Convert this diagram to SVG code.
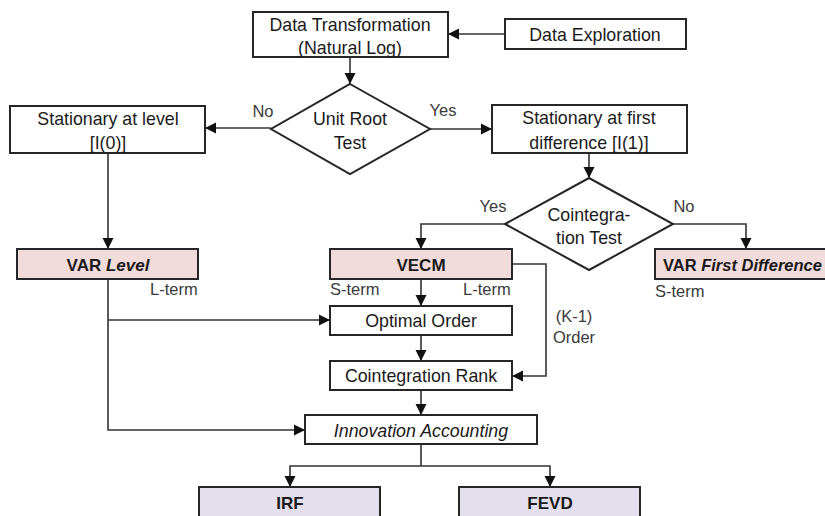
<svg xmlns="http://www.w3.org/2000/svg" width="825" height="516" viewBox="0 0 825 516">
<style>
.box{fill:#fff;stroke:#262626;stroke-width:2}
.pink{fill:#f2dcdb;stroke:#262626;stroke-width:2}
.lav{fill:#e4dfec;stroke:#262626;stroke-width:2}
.t{font-family:"Liberation Sans",Arial,sans-serif;font-size:17.8px;fill:#1a1a1a;text-anchor:middle}
.b{font-weight:bold;font-size:17px}
.i{font-style:italic}
.st{text-anchor:start;font-size:16.5px}
.lb{font-family:"Liberation Sans",Arial,sans-serif;font-size:16.5px;fill:#3a3a3a}
.c{fill:none;stroke:#333;stroke-width:1.6}
</style>
<defs>
<marker id="ah" markerUnits="userSpaceOnUse" markerWidth="12" markerHeight="12" viewBox="0 0 12 12" refX="11" refY="6" orient="auto">
<path d="M0,0.5 L11,6 L0,11.5 z" fill="#111"/>
</marker>
</defs>
<rect width="825" height="516" fill="#fff"/>
<g id="connectors">
<path class="c" d="M505,34 H448" marker-end="url(#ah)"/>
<path class="c" d="M350,57 V84" marker-end="url(#ah)"/>
<path class="c" d="M271,128 H205" marker-end="url(#ah)"/>
<path class="c" d="M430,129 H492" marker-end="url(#ah)"/>
<path class="c" d="M589,153 V178" marker-end="url(#ah)"/>
<path class="c" d="M505,224 H421 V249" marker-end="url(#ah)"/>
<path class="c" d="M673,224 H746 V249" marker-end="url(#ah)"/>
<path class="c" d="M108,153 V249" marker-end="url(#ah)"/>
<path class="c" d="M108,279 V430 H305" marker-end="url(#ah)"/>
<path class="c" d="M108,320 H330" marker-end="url(#ah)"/>
<path class="c" d="M421,279 V306" marker-end="url(#ah)"/>
<path class="c" d="M421,335 V361" marker-end="url(#ah)"/>
<path class="c" d="M421,390 V415" marker-end="url(#ah)"/>
<path class="c" d="M512,264 H546 V376 H512" marker-end="url(#ah)"/>
<path class="c" d="M421,444 V466"/>
<path class="c" d="M421,466 H290 V487" marker-end="url(#ah)"/>
<path class="c" d="M421,466 H550 V487" marker-end="url(#ah)"/>
<text class="lb" x="263" y="117" text-anchor="middle">No</text>
<text class="lb" x="443" y="116" text-anchor="middle">Yes</text>
<text class="lb" x="493" y="212" text-anchor="middle">Yes</text>
<text class="lb" x="684" y="212" text-anchor="middle">No</text>
<text class="lb" x="150" y="295">L-term</text>
<text class="lb" x="330" y="295">S-term</text>
<text class="lb" x="463" y="295">L-term</text>
<text class="lb" x="655" y="297">S-term</text>
<text class="lb" x="574" y="322" text-anchor="middle">(K-1)</text>
<text class="lb" x="574" y="343" text-anchor="middle">Order</text>
</g>
<g id="data-transformation">
<rect class="box" x="253" y="12" width="195" height="45"/>
<text class="t" x="350" y="31">Data Transformation</text>
<text class="t" x="350" y="54">(Natural Log)</text>
</g>
<g id="data-exploration">
<rect class="box" x="505" y="19" width="181" height="30"/>
<text class="t" x="595" y="41">Data Exploration</text>
</g>
<g id="unit-root-test">
<polygon class="box" points="350,84 430,129 350,174 271,129"/>
<text class="t" x="350" y="125">Unit Root</text>
<text class="t" x="350" y="149">Test</text>
</g>
<g id="stationary-level">
<rect class="box" x="10" y="106" width="195" height="47"/>
<text class="t" x="108" y="125">Stationary at level</text>
<text class="t" x="108" y="149">[I(0)]</text>
</g>
<g id="stationary-first">
<rect class="box" x="492" y="105" width="195" height="48"/>
<text class="t" x="589" y="124">Stationary at first</text>
<text class="t" x="589" y="149">difference [I(1)]</text>
</g>
<g id="cointegration-test">
<polygon class="box" points="589,178 673,224 589,270 505,224"/>
<text class="t" x="589" y="221">Cointegra-</text>
<text class="t" x="589" y="244">tion Test</text>
</g>
<g id="var-level">
<rect class="pink" x="17" y="249" width="181" height="30"/>
<text class="t b" x="108" y="271">VAR <tspan class="i">Level</tspan></text>
</g>
<g id="vecm">
<rect class="pink" x="330" y="249" width="182" height="30"/>
<text class="t b" x="421" y="271">VECM</text>
</g>
<g id="var-first-difference">
<rect class="pink" x="655" y="249" width="190" height="30"/>
<text class="t b st" x="663" y="271">VAR <tspan class="i">First Difference</tspan></text>
</g>
<g id="optimal-order">
<rect class="box" x="330" y="306" width="182" height="29"/>
<text class="t" x="421" y="327">Optimal Order</text>
</g>
<g id="cointegration-rank">
<rect class="box" x="330" y="361" width="182" height="29"/>
<text class="t" x="421" y="382">Cointegration Rank</text>
</g>
<g id="innovation-accounting">
<rect class="box" x="305" y="415" width="232" height="29"/>
<text class="t i" x="421" y="437">Innovation Accounting</text>
</g>
<g id="irf">
<rect class="lav" x="199" y="487" width="181" height="40"/>
<text class="t b" x="290" y="509">IRF</text>
</g>
<g id="fevd">
<rect class="lav" x="459" y="487" width="181" height="40"/>
<text class="t b" x="550" y="509">FEVD</text>
</g>
</svg>
